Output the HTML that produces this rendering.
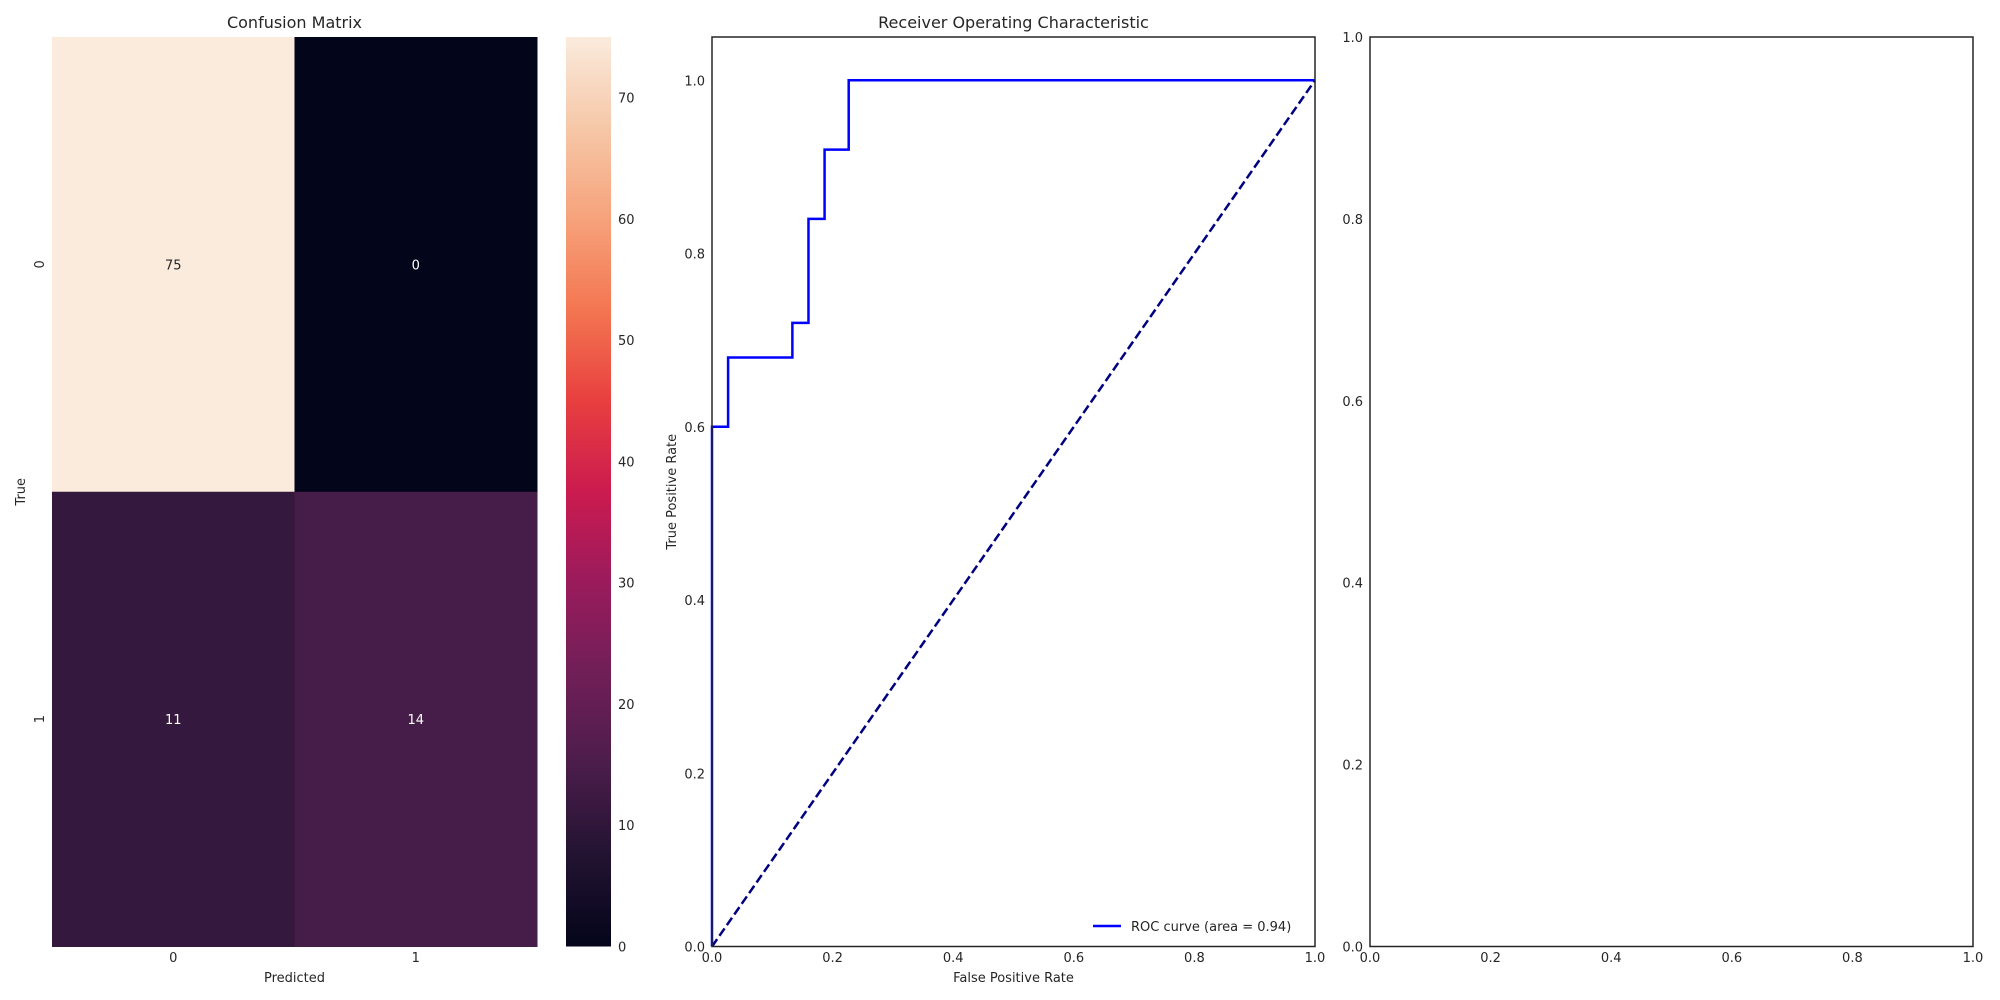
<!DOCTYPE html>
<html><head><meta charset="utf-8"><style>
html,body{margin:0;padding:0;background:#fff;}
svg{display:block;font-family:"DejaVu Sans","Liberation Sans",sans-serif;}
</style></head><body>
<svg id="fig" width="2000" height="1000" viewBox="0 0 2000 1000" xmlns="http://www.w3.org/2000/svg"></svg>
<script>
// Confusion matrix data
const cmRows = [0, 1];
const cmCols = [0, 1];
const cmValues = [[75, 0], [11, 14]];
const cbTicks = [0, 10, 20, 30, 40, 50, 60, 70];
// ROC data
const rocFpr = [0, 0, 0.0267, 0.0267, 0.1333, 0.1333, 0.16, 0.16, 0.1867, 0.1867, 0.2267, 0.2267, 1.0];
const rocTpr = [0, 0.6, 0.6, 0.68, 0.68, 0.72, 0.72, 0.84, 0.84, 0.92, 0.92, 1.0, 1.0];
const rocAuc = 0.94;
const rocXTicks = [0.0, 0.2, 0.4, 0.6, 0.8, 1.0];
const rocYTicks = [0.0, 0.2, 0.4, 0.6, 0.8, 1.0];
const emptyXTicks = [0.0, 0.2, 0.4, 0.6, 0.8, 1.0];
const emptyYTicks = [0.0, 0.2, 0.4, 0.6, 0.8, 1.0];

const NS = "http://www.w3.org/2000/svg";
const svg = document.getElementById('fig');
function mk(tag, attrs, parent) {
  const e = document.createElementNS(NS, tag);
  for (const k in attrs) e.setAttribute(k, attrs[k]);
  (parent || svg).appendChild(e);
  return e;
}
function txt(s, attrs) { const t = mk('text', attrs); t.textContent = s; return t; }

const stops = [[0,'#03051a'],[0.1,'#221331'],[0.2,'#4b1d4b'],[0.3,'#701f57'],[0.4,'#9a1b5c'],[0.5,'#cb1b4f'],[0.6,'#e83f3f'],[0.7,'#f37651'],[0.8,'#f6a27b'],[0.9,'#f6c8a8'],[1,'#faebdd']];
function hex(c){return [1,3,5].map(i=>parseInt(c.substr(i,2),16));}
function cmap(t){
  t=Math.max(0,Math.min(1,t));
  for(let i=1;i<stops.length;i++){ if(t<=stops[i][0]){
    const a=stops[i-1],b=stops[i],f=(t-a[0])/(b[0]-a[0]);
    const ca=hex(a[1]),cb=hex(b[1]);
    return 'rgb('+ca.map((v,j)=>Math.round(v+(cb[j]-v)*f)).join(',')+')';
  }}
  return stops[stops.length-1][1];
}

// ---- Confusion matrix ----
const hmL=52,hmR=537,hmT=37,hmB=946.5;
const vmin=0, vmax=75;
const cw=(hmR-hmL)/cmCols.length, ch=(hmB-hmT)/cmRows.length;
txt('Confusion Matrix',{x:(hmL+hmR)/2,y:28,'text-anchor':'middle','font-size':16,fill:'#262626',});
cmRows.forEach((r,i)=>{cmCols.forEach((c,j)=>{
  const v=cmValues[i][j], t=(v-vmin)/(vmax-vmin);
  const rc=mk('rect',{x:hmL+j*cw,y:hmT+i*ch,width:cw+0.5,height:ch+0.5,fill:cmap(t)});
  
  
  const tx=txt(String(v),{x:hmL+(j+0.5)*cw,y:hmT+(i+0.5)*ch+5,'text-anchor':'middle','font-size':13,fill:t>0.5?'#262626':'#ffffff'});
  
  
});});
cmCols.forEach((c,j)=>{
  const t=txt(String(c),{x:hmL+(j+0.5)*cw,y:962,'text-anchor':'middle','font-size':13,fill:'#262626'});
  
  
});
cmRows.forEach((r,i)=>{
  const y=hmT+(i+0.5)*ch;
  const t=txt(String(r),{x:44,y:y,'text-anchor':'middle','font-size':13,fill:'#262626',transform:'rotate(-90 44 '+y+')'});
  
  
});
txt('Predicted',{x:(hmL+hmR)/2,y:982,'text-anchor':'middle','font-size':13,fill:'#262626',});
txt('True',{x:25,y:(hmT+hmB)/2,'text-anchor':'middle','font-size':13,fill:'#262626',transform:'rotate(-90 25 '+((hmT+hmB)/2)+')',});

// colorbar
const cbL=566,cbR=611;
const defs=mk('defs',{});
const lg=mk('linearGradient',{id:'cbg',x1:0,y1:1,x2:0,y2:0},defs);
for(let k=0;k<=20;k++){mk('stop',{offset:k/20,'stop-color':cmap(k/20)},lg);}
mk('rect',{x:cbL,y:hmT,width:cbR-cbL,height:hmB-hmT,fill:'url(#cbg)',});
cbTicks.forEach(v=>{
  const y=hmB-(v-vmin)/(vmax-vmin)*(hmB-hmT);
  const t=txt(String(v),{x:618,y:y+5,'font-size':13,fill:'#262626'});
  
  
});

// ---- ROC ----
const rL=712,rR=1315,rT=37,rB=946.5;
const rx=v=>rL+v*(rR-rL), ry=v=>rB-v/1.05*(rB-rT);
txt('Receiver Operating Characteristic',{x:(rL+rR)/2,y:28,'text-anchor':'middle','font-size':16,fill:'#262626',});
mk('line',{x1:rx(0),y1:ry(0),x2:rx(1),y2:ry(1),stroke:'#000080','stroke-width':2.5,'stroke-dasharray':'9,4',});
mk('polyline',{points:rocFpr.map((f,i)=>rx(f)+','+ry(rocTpr[i])).join(' '),fill:'none',stroke:'#0000ff','stroke-width':2.5,});
mk('rect',{x:rL,y:rT,width:rR-rL,height:rB-rT,fill:'none',stroke:'#262626','stroke-width':1.5,});
rocXTicks.forEach(v=>{
  const t=txt(v.toFixed(1),{x:rx(v),y:962,'text-anchor':'middle','font-size':13,fill:'#262626'});
  
  
});
rocYTicks.forEach(v=>{
  const t=txt(v.toFixed(1),{x:705,y:ry(v)+5,'text-anchor':'end','font-size':13,fill:'#262626'});
  
  
});
txt('False Positive Rate',{x:(rL+rR)/2,y:982,'text-anchor':'middle','font-size':13,fill:'#262626',});
txt('True Positive Rate',{x:676,y:(rT+rB)/2,'text-anchor':'middle','font-size':13,fill:'#262626',transform:'rotate(-90 676 '+((rT+rB)/2)+')',});
mk('line',{x1:1093,y1:926,x2:1121,y2:926,stroke:'#0000ff','stroke-width':2.5,});
txt('ROC curve (area = '+rocAuc.toFixed(2)+')',{x:1131,y:931,'font-size':13,fill:'#262626',});

// ---- Empty axes ----
const eL=1370,eR=1973,eT=37,eB=946.5;
mk('rect',{x:eL,y:eT,width:eR-eL,height:eB-eT,fill:'none',stroke:'#262626','stroke-width':1.5,});
emptyXTicks.forEach(v=>{
  const t=txt(v.toFixed(1),{x:eL+v*(eR-eL),y:962,'text-anchor':'middle','font-size':13,fill:'#262626'});
  
  
});
emptyYTicks.forEach(v=>{
  const t=txt(v.toFixed(1),{x:1363,y:eB-v*(eB-eT)+5,'text-anchor':'end','font-size':13,fill:'#262626'});
  
  
});
</script>
</body></html>
